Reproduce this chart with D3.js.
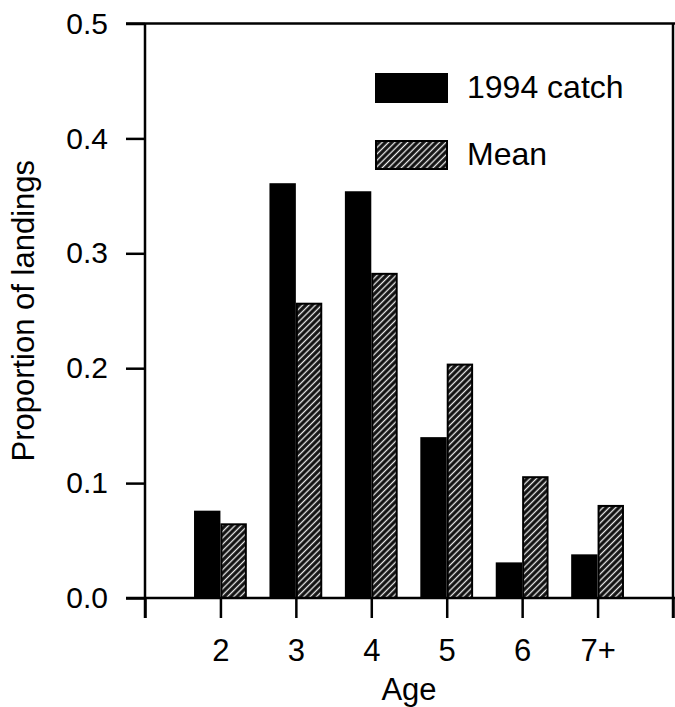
<!DOCTYPE html>
<html>
<head>
<meta charset="utf-8">
<script src="https://cdn.jsdelivr.net/npm/d3@7/dist/d3.min.js"></script>
<style>
  body { margin: 0; background: #fff; }
  text { font-family: "Liberation Sans", Arial, Helvetica, sans-serif; fill: #000; }
</style>
</head>
<body>
<svg id="chart" width="675" height="707"></svg>
<script>
'use strict';

// age classes (x position = class number)
var ages = [2, 3, 4, 5, 6, 7];
var ageLabels = ["2", "3", "4", "5", "6", "7+"];
// proportion of landings
var catch1994 = [0.076, 0.361, 0.354, 0.140, 0.031, 0.038];
var meanCatch = [0.065, 0.257, 0.283, 0.204, 0.106, 0.081];
var yTicks = [0, 0.1, 0.2, 0.3, 0.4, 0.5];
var seriesNames = ["1994 catch", "Mean"];

var svg = d3.select("#chart"),
    width = +svg.attr("width"),
    height = +svg.attr("height");

var x = d3.scaleLinear().domain([1, 8]).range([145, 673]);
var y = d3.scaleLinear().domain([0, 0.5]).range([598, 23.5]);
var barW = x(1.35) - x(1);

// hatch for the mean bars
var defs = svg.append("defs");
var pat = defs.append("pattern")
    .attr("id", "hatch")
    .attr("patternUnits", "userSpaceOnUse")
    .attr("width", 4.5).attr("height", 4.5)
    .attr("patternTransform", "rotate(45)");
pat.append("rect").attr("width", 4.5).attr("height", 4.5).attr("fill", "#111");
pat.append("line")
    .attr("x1", 2.25).attr("y1", 0).attr("x2", 2.25).attr("y2", 4.5)
    .attr("stroke", "#eee").attr("stroke-width", 1.3);

var rows = ages.map(function (a, i) {
  return {age: a, c: catch1994[i], m: meanCatch[i]};
});

// bars
svg.append("g").selectAll("rect")
  .data(rows)
  .enter().append("rect")
    .attr("x", function (d) { return x(d.age) - barW; })
    .attr("y", function (d) { return y(d.c); })
    .attr("width", barW)
    .attr("height", function (d) { return y(0) - y(d.c); })
    .attr("fill", "#000");

svg.append("g").selectAll("rect")
  .data(rows)
  .enter().append("rect")
    .attr("x", function (d) { return x(d.age) + 1; })
    .attr("y", function (d) { return y(d.m) + 1; })
    .attr("width", barW - 2)
    .attr("height", function (d) { return y(0) - y(d.m) - 1; })
    .attr("fill", "url(#hatch)")
    .attr("stroke", "#000")
    .attr("stroke-width", 2);

// y axis
var yAxis = svg.append("g")
    .attr("transform", "translate(" + x(1) + ",0)")
    .call(d3.axisLeft(y).tickValues(yTicks).tickFormat(d3.format(".1f"))
      .tickSize(19).tickPadding(18).tickSizeOuter(0));
yAxis.select(".domain").remove();
yAxis.selectAll("line").attr("stroke", "#000").attr("stroke-width", 2.5);
yAxis.selectAll("text").style("font-size", "30px");

// x axis
var xAxis = svg.append("g")
    .attr("transform", "translate(0," + y(0) + ")")
    .call(d3.axisBottom(x).tickValues(d3.range(1, 9))
      .tickFormat(function (d) { var i = ages.indexOf(d); return i < 0 ? "" : ageLabels[i]; })
      .tickSize(20).tickPadding(21).tickSizeOuter(0));
xAxis.select(".domain").remove();
xAxis.selectAll("line").attr("stroke", "#000").attr("stroke-width", 2.5);
xAxis.selectAll("text").style("font-size", "31px");

// frame
var frame = svg.append("g").attr("stroke", "#000").attr("stroke-width", 2.5);
frame.append("line").attr("x1", x(1)).attr("x2", x(1)).attr("y1", y(0.5)).attr("y2", y(0) + 20);
frame.append("line").attr("x1", x(8)).attr("x2", x(8)).attr("y1", y(0.5)).attr("y2", y(0) + 20);
frame.append("line").attr("x1", x(1) - 19).attr("x2", width).attr("y1", y(0)).attr("y2", y(0));
frame.append("line").attr("x1", x(1) - 19).attr("x2", width).attr("y1", y(0.5)).attr("y2", y(0.5));

// axis titles
svg.append("text")
    .attr("x", (x(1) + x(8)) / 2)
    .attr("y", 700)
    .attr("text-anchor", "middle")
    .style("font-size", "31px")
    .text("Age");

svg.append("text")
    .attr("transform", "translate(34," + (y(0) + y(0.5)) / 2 + ") rotate(-90)")
    .attr("text-anchor", "middle")
    .style("font-size", "31px")
    .text("Proportion of landings");

// legend
var legend = svg.append("g").selectAll("g")
  .data(seriesNames)
  .enter().append("g")
    .attr("transform", function (d, i) { return "translate(375," + (73 + i * 67) + ")"; });
legend.append("rect")
    .attr("x", 1).attr("y", 1)
    .attr("width", 71).attr("height", 28)
    .attr("fill", function (d, i) { return i === 0 ? "#000" : "url(#hatch)"; })
    .attr("stroke", "#000").attr("stroke-width", 2);
legend.append("text")
    .attr("x", 92)
    .attr("y", 24.5)
    .style("font-size", "32px")
    .text(function (d) { return d; });
</script>
</body>
</html>
